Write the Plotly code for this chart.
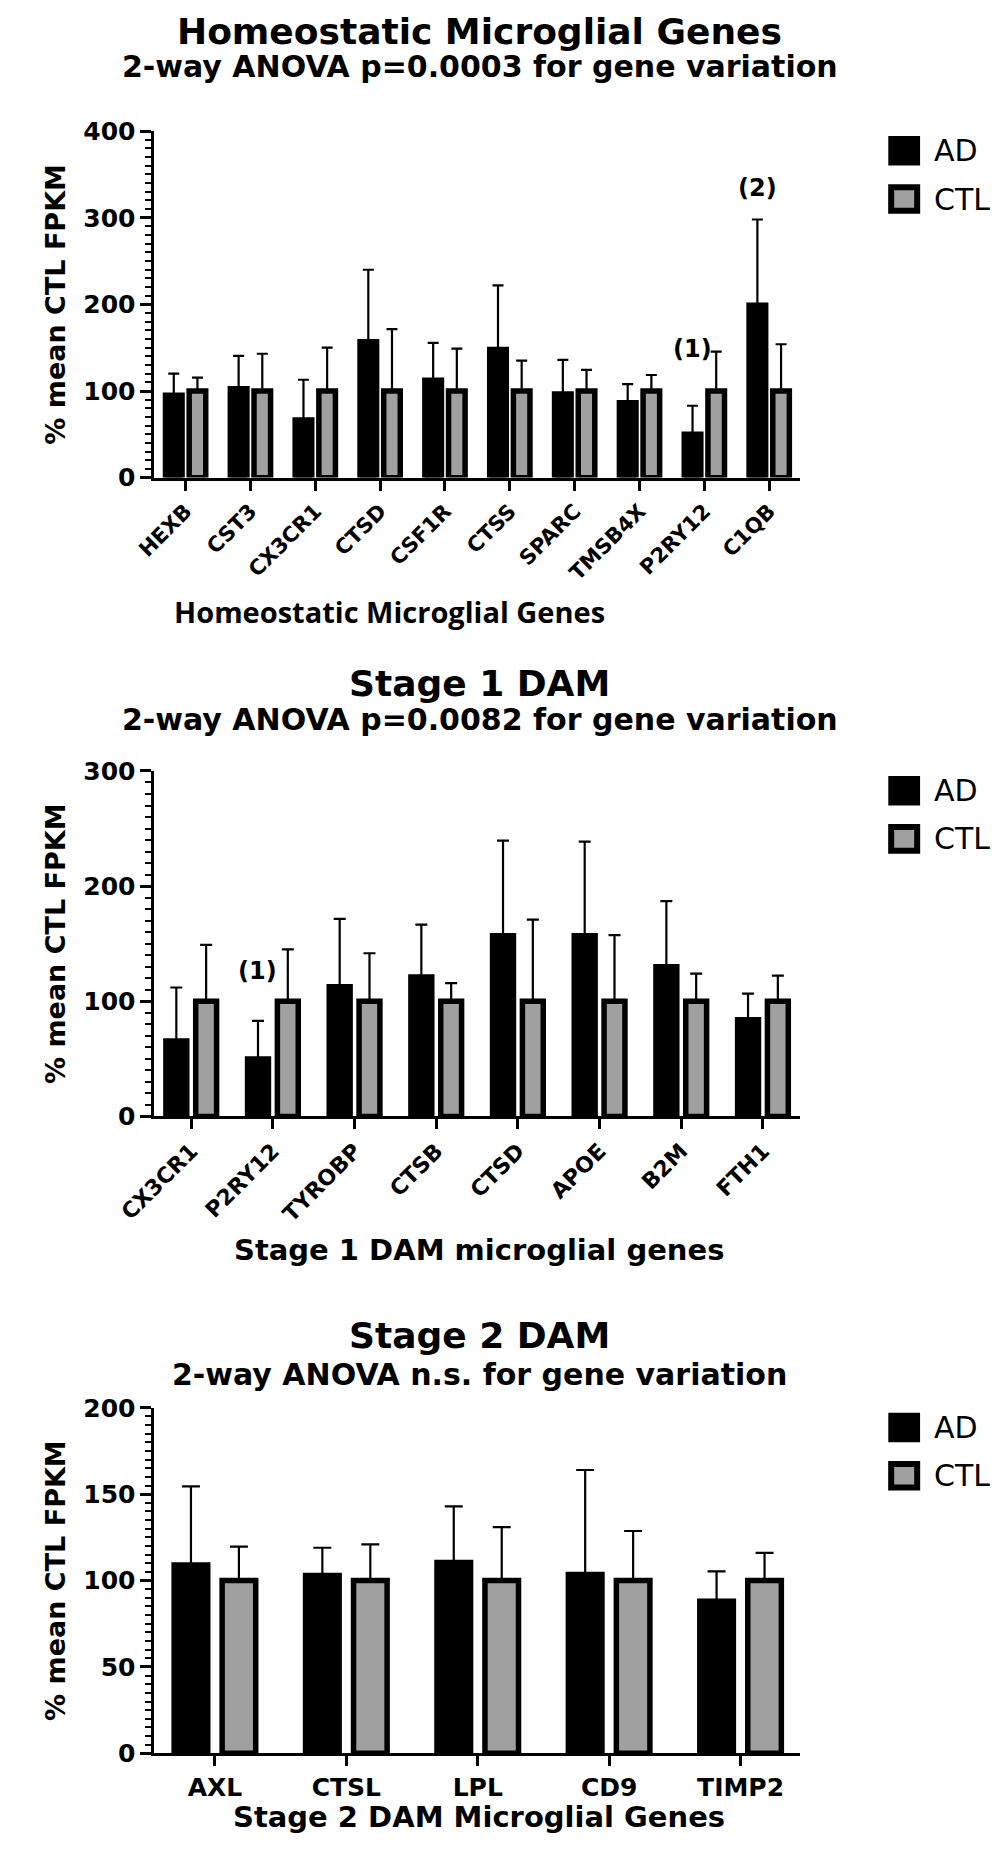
import plotly.graph_objects as go

# ---------------- data ----------------
genes1 = ["HEXB", "CST3", "CX3CR1", "CTSD", "CSF1R", "CTSS", "SPARC", "TMSB4X", "P2RY12", "C1QB"]
ad1 = [95, 102.5, 66.5, 157, 112.5, 148, 96.5, 86.5, 50, 199]
ad1_err = [25, 38, 46.5, 83, 43, 74, 39.5, 21.5, 33, 99]
ctl1 = [100, 100, 100, 100, 100, 100, 100, 100, 100, 100]
ctl1_err = [15.5, 43, 50, 71.5, 49, 35, 24.5, 18.5, 45.5, 54]

genes2 = ["CX3CR1", "P2RY12", "TYROBP", "CTSB", "CTSD", "APOE", "B2M", "FTH1"]
ad2 = [65.6, 50, 112.6, 121, 157, 157, 130, 84]
ad2_err = [46.4, 33, 59, 45.5, 82.5, 81.7, 57, 22.6]
ctl2 = [100, 100, 100, 100, 100, 100, 100, 100]
ctl2_err = [49, 45, 41.7, 15.8, 71, 57.4, 24, 22.3]

genes3 = ["AXL", "CTSL", "LPL", "CD9", "TIMP2"]
ad3 = [109, 103, 110.5, 103.5, 88]
ad3_err = [45.5, 16, 32.5, 60.5, 17.3]
ctl3 = [100, 100, 100, 100, 100]
ctl3_err = [19.7, 21, 31, 28.7, 16]

titles = ["Homeostatic Microglial Genes", "Stage 1 DAM", "Stage 2 DAM"]
subtitles = ["2-way ANOVA p=0.0003 for gene variation",
             "2-way ANOVA p=0.0082 for gene variation",
             "2-way ANOVA n.s. for gene variation"]
xtitles = ["Homeostatic Microglial Genes", "Stage 1 DAM microglial genes",
           "Stage 2 DAM Microglial Genes"]
ytitle = "% mean CTL FPKM"
series_names = ["AD", "CTL"]

# ---------------- style ----------------
W, H = 1000, 1852
BLACK = "#000000"
GRAY = "#a0a0a0"
FONT = "DejaVu Sans"


def px(x):
    return x / W


def py(y):
    return 1 - y / H


# pixel layout of each plot area: (x left, x right, y top, y bottom)
boxes = [(122, 792, 119, 471), (122, 792, 769, 1120), (122, 792, 1416, 1767)]
yranges = [[0, 400], [0, 300], [0, 200]]
ydticks = [100, 100, 50]
yminor = [10, 10, 5]
xranges = [[-0.48, 9.47], [-0.45, 7.45], [-0.46, 4.45]]
xtick_angle = [-45, -45, 0]
xtick_size = [21, 22, 25]
cap_w = [5.5, 6, 9]
title_y = [18, 680, 1343]
subtitle_y = [53, 717, 1382]
xtitle_pos = [(366, 607), (459, 1256), (459, 1832)]

panels = [
    (genes1, ad1, ad1_err, ctl1, ctl1_err),
    (genes2, ad2, ad2_err, ctl2, ctl2_err),
    (genes3, ad3, ad3_err, ctl3, ctl3_err),
]

fig = go.Figure()
annotations = []
shapes = []

for i, (genes, ad, ade, ctl, ctle) in enumerate(panels):
    n = i + 1
    xa = "x" if n == 1 else f"x{n}"
    ya = "y" if n == 1 else f"y{n}"
    for name, vals, errs, color in [(series_names[0], ad, ade, BLACK),
                                    (series_names[1], ctl, ctle, GRAY)]:
        fig.add_trace(go.Bar(
            x=genes, y=vals, name=name, xaxis=xa, yaxis=ya,
            marker=dict(color=color, line=dict(color=BLACK, width=5.5)),
            error_y=dict(type="data", array=errs, arrayminus=[0] * len(errs),
                         symmetric=False, color=BLACK, thickness=2.2, width=cap_w[i]),
            showlegend=False, offsetgroup=name,
        ))
    xl, xr, yt, yb = boxes[i]
    axis_common = dict(showline=True, linewidth=3, linecolor=BLACK, ticks="outside",
                       tickwidth=3, tickcolor=BLACK, showgrid=False, zeroline=False,
                       fixedrange=True)
    fig.update_layout(**{
        ("xaxis" if n == 1 else f"xaxis{n}"): dict(
            domain=[px(xl), px(xr)], anchor=ya, type="category",
            range=xranges[i], ticklen=10, tickangle=xtick_angle[i],
            tickfont=dict(family=FONT, size=xtick_size[i], color=BLACK, weight="bold"),
            **axis_common),
        ("yaxis" if n == 1 else f"yaxis{n}"): dict(
            domain=[py(yb), py(yt)], anchor=xa, range=yranges[i],
            dtick=ydticks[i], tick0=0, ticklen=11,
            tickfont=dict(family=FONT, size=25, color=BLACK, weight="bold"),
            minor=dict(dtick=yminor[i], tick0=0, ticks="outside", ticklen=6,
                       tickwidth=2, tickcolor=BLACK),
            **axis_common),
    })

    # titles
    annotations.append(dict(text=titles[i], x=px(460), y=py(title_y[i]), xref="paper",
                            yref="paper", showarrow=False, xanchor="center", yanchor="middle",
                            font=dict(family=FONT, size=36, color=BLACK, weight="bold")))
    annotations.append(dict(text=subtitles[i], x=px(460), y=py(subtitle_y[i]), xref="paper",
                            yref="paper", showarrow=False, xanchor="center", yanchor="middle",
                            font=dict(family=FONT, size=30, color=BLACK, weight="bold")))
    # x title
    xfont = (dict(family="Open Sans", size=29, color=BLACK, weight="bold") if i == 0
             else dict(family=FONT, size=29, color=BLACK, weight="bold"))
    annotations.append(dict(text=xtitles[i], x=px(xtitle_pos[i][0]), y=py(xtitle_pos[i][1]),
                            xref="paper", yref="paper", showarrow=False, xanchor="center",
                            yanchor="middle", font=xfont))
    # y title
    annotations.append(dict(text=ytitle, x=px(19), y=py((yt + yb) / 2), xref="paper",
                            yref="paper", showarrow=False, textangle=-90, xanchor="center",
                            yanchor="middle",
                            font=dict(family=FONT, size=27, color=BLACK, weight="bold")))
    # legend (drawn manually for large swatches)
    shapes.append(dict(type="rect", xref="paper", yref="paper", x0=px(884), x1=px(917),
                       y0=py(yt + 35), y1=py(yt + 5), fillcolor=BLACK, line=dict(width=0)))
    shapes.append(dict(type="rect", xref="paper", yref="paper", x0=px(887), x1=px(914),
                       y0=py(yt + 81), y1=py(yt + 57), fillcolor=GRAY,
                       line=dict(color=BLACK, width=6)))
    for k, off in enumerate([20, 69]):
        annotations.append(dict(text=series_names[k], x=px(929), y=py(yt + off), xref="paper",
                                yref="paper", showarrow=False, xanchor="left", yanchor="middle",
                                font=dict(family=FONT, size=30, color=BLACK)))

# significance labels above the AD bars
sig_font = dict(family=FONT, size=24, color=BLACK, weight="bold")
annotations.append(dict(text="(1)", x="P2RY12", y=149, xref="x", yref="y", xshift=-12,
                        showarrow=False, font=sig_font))
annotations.append(dict(text="(2)", x="C1QB", y=334, xref="x", yref="y", xshift=-12,
                        showarrow=False, font=sig_font))
annotations.append(dict(text="(1)", x="P2RY12", y=126.5, xref="x2", yref="y2", xshift=-15,
                        showarrow=False, font=sig_font))

fig.update_layout(
    width=W, height=H, autosize=False,
    margin=dict(l=0, r=0, t=0, b=0, pad=0),
    paper_bgcolor="white", plot_bgcolor="white",
    barmode="group", bargap=0.27, bargroupgap=0.3,
    annotations=annotations, shapes=shapes,
    font=dict(family=FONT, color=BLACK),
)

# remove the browser's default page margin so the figure sits at the window origin
fig.write_html(
    "out.html",
    config={"displayModeBar": False},
    post_script="document.body.style.margin='0';document.body.style.overflow='hidden';",
)
